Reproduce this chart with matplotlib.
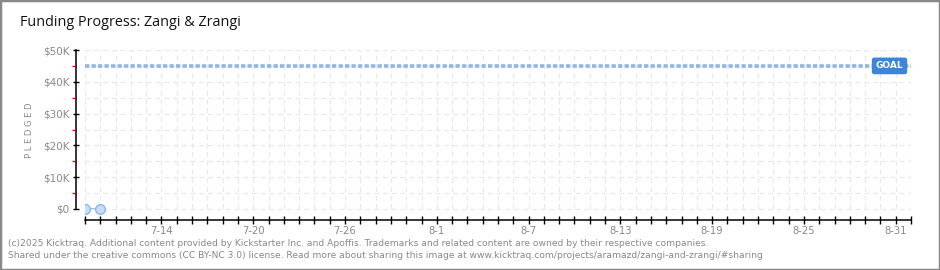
import matplotlib
matplotlib.use("Agg")
import matplotlib.pyplot as plt
import matplotlib.dates as mdates
from matplotlib.patches import Rectangle
import pandas as pd

# data
dates = pd.to_datetime(["2025-07-09", "2025-07-10"])
pledged = [150, 0]
goal = 45000
start = pd.Timestamp("2025-07-09")
end = pd.Timestamp("2025-09-01")
label_days = pd.to_datetime(["2025-07-14", "2025-07-20", "2025-07-26", "2025-08-01",
                             "2025-08-07", "2025-08-13", "2025-08-19", "2025-08-25",
                             "2025-08-31"])
yticks = [0, 10000, 20000, 30000, 40000, 50000]
ytick_labels = ["$0", "$10K", "$20K", "$30K", "$40K", "$50K"]

W, H = 940, 270
fig = plt.figure(figsize=(W / 100, H / 100), dpi=100)
fig.patch.set_facecolor("white")

# plot area in pixels
x0, x1 = 85, 911
ytop, ybot, yzero = 50, 220, 209
ax = fig.add_axes([x0 / W, 1 - ybot / H, (x1 - x0) / W, (ybot - ytop) / H])
per_px = 50000 / (yzero - ytop)
ax.set_ylim(-(ybot - yzero) * per_px, 50000)
ax.set_xlim(mdates.date2num(start), mdates.date2num(end))

grey = "#888888"
gridc = "#e9e9e9"
# grid
for d in pd.date_range(start, end, freq="D"):
    ax.plot([d, d], [0, 50000], color=gridc, lw=0.9, ls=(0, (4, 3)), zorder=0)
for v in range(0, 50001, 5000):
    ax.plot([start, end], [v, v], color=gridc, lw=0.9, ls=(0, (4, 3)), zorder=0)

# goal line
ax.plot([start, end], [goal, goal], color="#8fb6e4", lw=2.6, ls=(0, (1.2, 0.6)), zorder=2)
ax.text(mdates.date2num(end) - 0.5, goal, "GOAL", color="white", fontsize=6.5,
        fontweight="bold", ha="right", va="center", zorder=4,
        bbox=dict(boxstyle="round,pad=0.35,rounding_size=0.2", fc="#3b86d8", ec="#3b86d8"))

# series
ax.plot(dates, pledged, color="#9cc0ea", lw=1, zorder=3)
ax.plot(dates, pledged, "o", ms=7, mfc="#c9ddf6", mec="#8fb6e4", mew=1, zorder=3)

# spines
for s in ["top", "right"]:
    ax.spines[s].set_visible(False)
ax.spines["left"].set_position(("outward", 6.5))
ax.spines["left"].set_bounds(0, 50000)
ax.spines["bottom"].set_bounds(mdates.date2num(start), mdates.date2num(end))
ax.spines["left"].set_linewidth(1.1)
ax.spines["bottom"].set_linewidth(1.1)

ax.set_yticks(yticks)
ax.set_yticklabels(ytick_labels)
ax.set_yticks(range(5000, 50000, 10000), minor=True)
ax.tick_params(axis="y", which="major", direction="inout", length=5, width=1,
               colors="black", labelcolor=grey, labelsize=7.5, pad=2)
ax.tick_params(axis="y", which="minor", direction="out", length=3, width=1, colors="red")

ax.set_xticks(mdates.date2num(pd.date_range(start, end, freq="D")), minor=True)
ax.set_xticks(mdates.date2num(label_days))
ax.set_xticklabels([f"{d.month}-{d.day}" for d in label_days])
ax.tick_params(axis="x", which="both", direction="inout", length=6, width=1,
               colors="black", labelcolor=grey, labelsize=7.2, pad=1)

fig.text(30 / W, 1 - 130 / H, "P L E D G E D", rotation=90, color=grey, fontsize=6,
         ha="center", va="center")

fig.text(20 / W, 1 - 22 / H, "Funding Progress: Zangi & Zrangi", fontsize=10.4,
         family="Open Sans", color="#111111", va="center")
fig.text(8 / W, 1 - 243 / H,
         "(c)2025 Kicktraq. Additional content provided by Kickstarter Inc. and Apoffis. "
         "Trademarks and related content are owned by their respective companies.",
         fontsize=6.6, color=grey, va="center")
fig.text(8 / W, 1 - 256 / H,
         "Shared under the creative commons (CC BY-NC 3.0) license. Read more about sharing "
         "this image at www.kicktraq.com/projects/aramazd/zangi-and-zrangi/#sharing",
         fontsize=6.6, color=grey, va="center")

fig.patches.append(Rectangle((0, 0), 1, 1, transform=fig.transFigure, fill=False,
                             ec="#888888", lw=2.5))

fig.savefig("out.png", dpi=100)
